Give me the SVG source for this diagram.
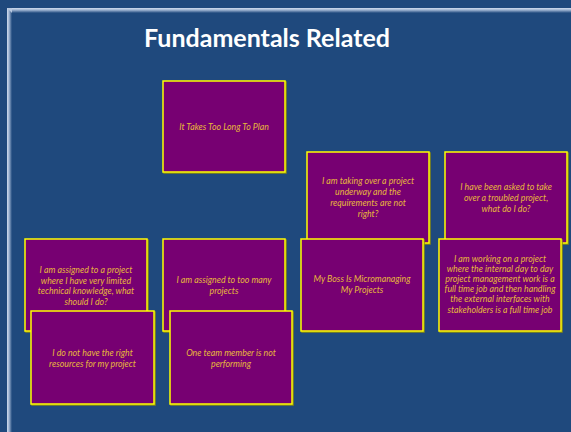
<svg xmlns="http://www.w3.org/2000/svg" width="571" height="432" viewBox="0 0 571 432">
<defs>
<linearGradient id="gt" x1="0" y1="0" x2="0" y2="1"><stop offset="0" stop-color="#d0dcee"/><stop offset="0.4" stop-color="#9fb4d2"/><stop offset="1" stop-color="#1f497d"/></linearGradient>
<linearGradient id="gl" x1="0" y1="0" x2="1" y2="0"><stop offset="0" stop-color="#d0dcee"/><stop offset="0.4" stop-color="#9fb4d2"/><stop offset="1" stop-color="#1f497d"/></linearGradient>
<style>
.box rect.b{fill:#770072;stroke:#ffff00;stroke-width:1.5}
.box rect.s{fill:none;stroke:#8a8a10;stroke-width:1.5}
.box text{font-family:Lato,"Liberation Sans",sans-serif;font-style:italic;font-size:8.8px;fill:#e8b83c;text-anchor:middle}
</style>
</defs>
<rect width="571" height="432" fill="#1f497d"/>
<rect x="7" y="8" width="564" height="5" fill="url(#gt)"/>
<rect x="7" y="8" width="5" height="424" fill="url(#gl)"/>
<polygon points="7,8 12,13 12,8" fill="#b8c8e0"/>
<text x="267" y="47" font-family="Lato,'Liberation Sans',sans-serif" font-weight="bold" font-size="25" fill="#ffffff" text-anchor="middle">Fundamentals Related</text>
<g id="connectors"/>
<g id="n1" class="box"><rect class="s" x="164" y="82" width="122" height="91"/><rect class="b" x="163" y="81" width="122" height="91"/><text x="224" y="129.5">It Takes Too Long To Plan</text></g>
<g id="n2" class="box"><rect class="s" x="308" y="153" width="122" height="91"/><rect class="b" x="307" y="152" width="122" height="91"/><text x="368" y="184">I am taking over a project</text><text x="368" y="195">underway and the</text><text x="368" y="206">requirements are not</text><text x="368" y="217">right?</text></g>
<g id="n3" class="box"><rect class="s" x="446" y="153" width="122" height="91"/><rect class="b" x="445" y="152" width="122" height="91"/><text x="506" y="190">I have been asked to take</text><text x="506" y="201">over a troubled project,</text><text x="506" y="211.5">what do I do?</text></g>
<g id="n4" class="box"><rect class="s" x="26" y="240" width="122" height="92"/><rect class="b" x="25" y="239" width="122" height="92"/><text x="86" y="273">I am assigned to a project</text><text x="86" y="283.5">where I have very limited</text><text x="86" y="294">technical knowledge, what</text><text x="86" y="304.5">should I do?</text></g>
<g id="n5" class="box"><rect class="s" x="164" y="240" width="122" height="92"/><rect class="b" x="163" y="239" width="122" height="92"/><text x="224" y="283">I am assigned to too many</text><text x="224" y="293.5">projects</text></g>
<g id="n6" class="box"><rect class="s" x="302" y="240" width="122" height="92"/><rect class="b" x="301" y="239" width="122" height="92"/><text x="362" y="282">My Boss Is Micromanaging</text><text x="362" y="293">My Projects</text></g>
<g id="n7" class="box"><rect class="s" x="440" y="240" width="122" height="92"/><rect class="b" x="439" y="239" width="122" height="92"/><text x="500" y="262">I am working on a project</text><text x="500" y="272">where the internal day to day</text><text x="500" y="282.3">project management work is a</text><text x="500" y="292.3">full time job and then handling</text><text x="500" y="302.3">the external interfaces with</text><text x="500" y="312.6">stakeholders is a full time job</text></g>
<g id="n8" class="box"><rect class="s" x="32" y="312" width="123" height="93"/><rect class="b" x="31" y="311" width="123" height="93"/><text x="92.5" y="356">I do not have the right</text><text x="92.5" y="367">resources for my project</text></g>
<g id="n9" class="box"><rect class="s" x="171" y="312" width="122" height="93"/><rect class="b" x="170" y="311" width="122" height="93"/><text x="231" y="356">One team member is not</text><text x="231" y="367">performing</text></g>
</svg>
